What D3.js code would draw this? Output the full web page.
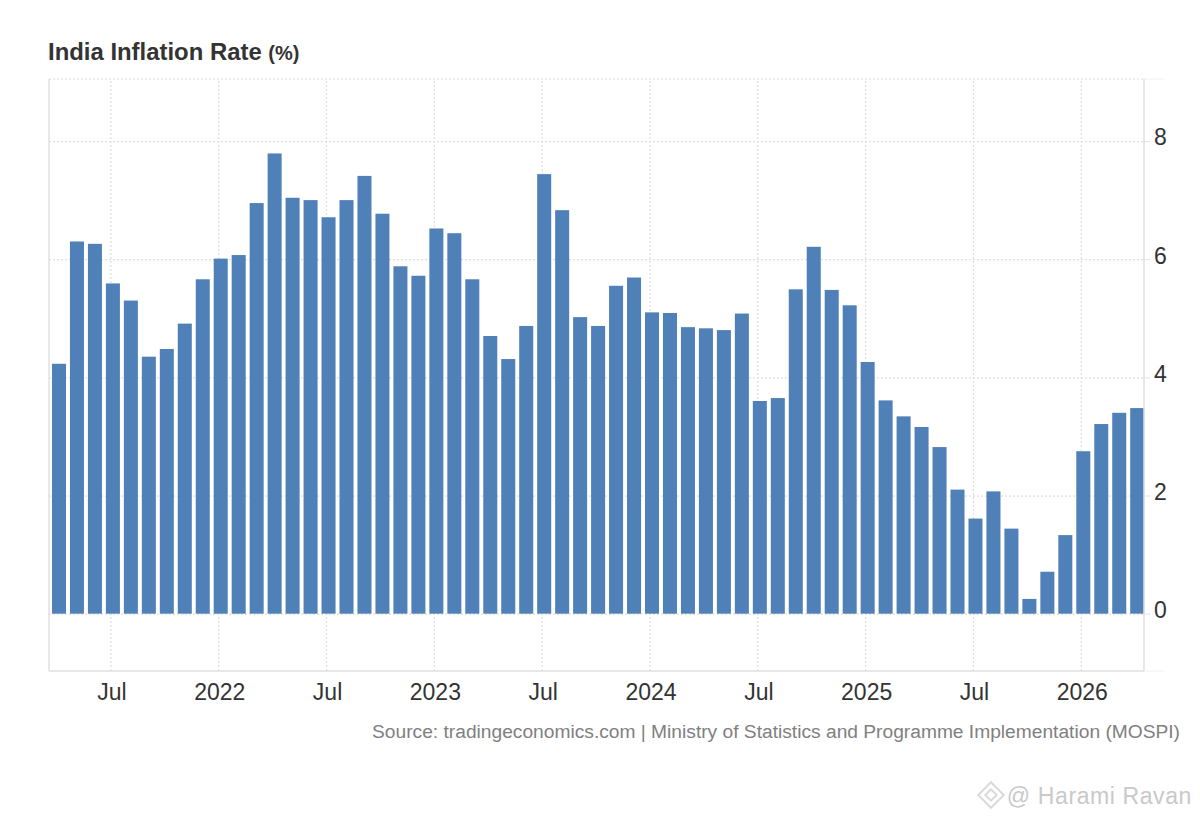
<!DOCTYPE html>
<html>
<head>
<meta charset="utf-8">
<script src="https://cdn.jsdelivr.net/npm/d3@7.9.0/dist/d3.min.js"></script>
<style>
  html, body { margin: 0; background: #fff; }
  svg { display: block; font-family: "Liberation Sans", Arial, sans-serif; }
  .grid line { stroke: #dedede; stroke-width: 1.2; stroke-dasharray: 2 2; }
  .grid path, .axis path { display: none; }
  .axis text { fill: #333; font-size: 23px; }
  .axis line { stroke: #e2e2e2; }
</style>
</head>
<body>
<svg id="chart" width="1200" height="820"></svg>
<script>
// monthly readings, Apr 2021 to Apr 2026
const startMonth = new Date(2021, 3, 1);
const endMonth = new Date(2026, 4, 1);
const values = [
  4.23, 6.30, 6.26, 5.59, 5.30, 4.35, 4.48, 4.91, 5.66, 6.01, 6.07, 6.95,
  7.79, 7.04, 7.00, 6.71, 7.00, 7.41, 6.77, 5.88, 5.72, 6.52, 6.44, 5.66,
  4.70, 4.31, 4.87, 7.44, 6.83, 5.02, 4.87, 5.55, 5.69, 5.10, 5.09, 4.85,
  4.83, 4.80, 5.08, 3.60, 3.65, 5.49, 6.21, 5.48, 5.22, 4.26, 3.61, 3.34,
  3.16, 2.82, 2.10, 1.61, 2.07, 1.44, 0.25, 0.71, 1.33, 2.75, 3.21, 3.40,
  3.48
];
const yTicks = [0, 2, 4, 6, 8];
const xTicks = [
  new Date(2021, 6, 1), new Date(2022, 0, 1), new Date(2022, 6, 1),
  new Date(2023, 0, 1), new Date(2023, 6, 1), new Date(2024, 0, 1),
  new Date(2024, 6, 1), new Date(2025, 0, 1), new Date(2025, 6, 1),
  new Date(2026, 0, 1)
];

const months = d3.timeMonth.range(startMonth, endMonth);
const rows = months.map((d, i) => ({ date: d, value: values[i] }));

const plotLeft = 49, plotRight = 1144, plotTop = 79, plotBottom = 671;
const svg = d3.select("#chart");

const xScale = d3.scaleBand()
  .domain(months)
  .range([50, 1146.2])
  .paddingInner(0.22)
  .paddingOuter(0.11);

const yScale = d3.scaleLinear().domain([-0.97, 9.05]).range([plotBottom, plotTop]);

// ticks sit a little left of the bar centres in the original
const tickShift = -2;
const xFormat = (d) => d.getMonth() === 0 ? d3.timeFormat("%Y")(d) : d3.timeFormat("%b")(d);

// ---------- Grid ----------
svg.append("g")
  .attr("class", "grid")
  .attr("transform", `translate(${tickShift}, ${plotBottom})`)
  .call(d3.axisBottom(xScale).tickValues(xTicks).tickSize(plotTop - plotBottom).tickFormat(""));

svg.append("g")
  .attr("class", "grid")
  .attr("transform", `translate(${plotLeft}, 0)`)
  .call(d3.axisRight(yScale).tickValues(yTicks).tickSize(plotRight - plotLeft).tickFormat(""));

svg.append("line")
  .attr("x1", plotLeft).attr("x2", plotRight)
  .attr("y1", plotTop).attr("y2", plotTop)
  .attr("stroke", "#dedede")
  .attr("stroke-width", 1.2)
  .attr("stroke-dasharray", "2 2");
svg.append("line")
  .attr("x1", plotRight).attr("x2", plotRight + 20)
  .attr("y1", plotTop).attr("y2", plotTop)
  .attr("stroke", "#efefef");

// ---------- Bars ----------
svg.append("g")
  .selectAll("rect")
  .data(rows)
  .join("rect")
  .attr("x", (d) => xScale(d.date))
  .attr("y", (d) => yScale(d.value))
  .attr("width", xScale.bandwidth())
  .attr("height", (d) => yScale(0) - yScale(d.value))
  .attr("fill", "#5080b8");

// ---------- Frame ----------
const frame = svg.append("g").attr("stroke", "#e0e0e0").attr("stroke-width", 1.5);
frame.append("line").attr("x1", plotLeft).attr("x2", plotLeft).attr("y1", plotTop).attr("y2", plotBottom);
frame.append("line").attr("x1", plotRight).attr("x2", plotRight).attr("y1", plotTop).attr("y2", plotBottom);
frame.append("line").attr("x1", plotLeft).attr("x2", plotRight).attr("y1", plotBottom).attr("y2", plotBottom);
svg.append("line")
  .attr("x1", plotRight).attr("x2", plotRight + 20)
  .attr("y1", plotBottom).attr("y2", plotBottom)
  .attr("stroke", "#efefef");

// ---------- Axes ----------
const xAxis = svg.append("g")
  .attr("class", "axis")
  .attr("transform", `translate(${tickShift}, ${plotBottom})`)
  .call(d3.axisBottom(xScale).tickValues(xTicks).tickSize(0).tickFormat(xFormat));
xAxis.selectAll("text").attr("dy", null).attr("y", 29).attr("dx", 1);

const yAxis = svg.append("g")
  .attr("class", "axis")
  .attr("transform", `translate(${plotRight}, 0)`)
  .call(d3.axisRight(yScale).tickValues(yTicks).tickSize(20).tickFormat(d3.format("d")));
yAxis.selectAll("text")
  .attr("x", 10)
  .attr("dy", "0.17em")
  .attr("text-anchor", "start");
yAxis.selectAll("line").attr("x1", 0).attr("x2", 6);

// ---------- Text ----------
const title = svg.append("text")
  .attr("x", 48).attr("y", 60)
  .attr("fill", "#333")
  .attr("font-weight", "bold")
  .attr("font-size", 23.9);
title.append("tspan").text("India Inflation Rate ");
title.append("tspan").attr("font-size", 20).text("(%)");

svg.append("text")
  .attr("x", 1180).attr("y", 738)
  .attr("text-anchor", "end")
  .attr("fill", "#808080")
  .attr("font-size", 19.2)
  .text("Source: tradingeconomics.com | Ministry of Statistics and Programme Implementation (MOSPI)");

svg.append("text")
  .attr("x", 1192).attr("y", 804)
  .attr("text-anchor", "end")
  .attr("fill", "#c9c9c9")
  .attr("font-size", 23)
  .attr("letter-spacing", 0.6)
  .text("@ Harami Ravan");

// watermark logo
const logo = svg.append("g")
  .attr("transform", "translate(991, 795) rotate(45)")
  .attr("fill", "none")
  .attr("stroke", "#dadada")
  .attr("stroke-width", 2);
logo.append("rect").attr("x", -4).attr("y", -4).attr("width", 8).attr("height", 8);
logo.append("rect").attr("x", -9).attr("y", -9).attr("width", 18).attr("height", 18);
</script>
</body>
</html>
